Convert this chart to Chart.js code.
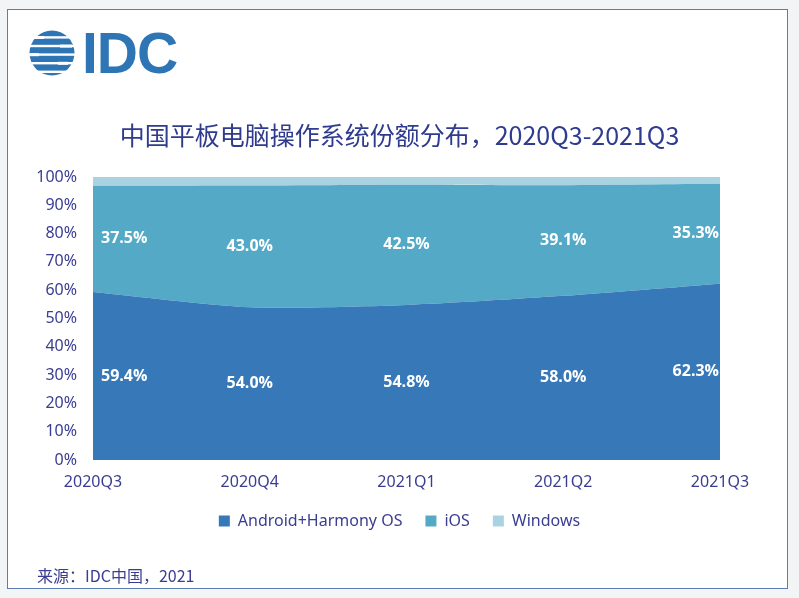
<!DOCTYPE html>
<html>
<head>
<meta charset="utf-8">
<script src="https://cdn.jsdelivr.net/npm/chart.js@4/dist/chart.umd.min.js"></script>
<style>
  html, body { margin: 0; padding: 0; }
  body { width: 799px; height: 598px; background: #f3f4f6; position: relative; overflow: hidden; font-family: "Noto Sans CJK SC", "Noto Sans", sans-serif; }
  #frame { position: absolute; left: 7px; top: 9px; width: 779px; height: 578px; background: #ffffff; border: 1.5px solid #5b7db3; }
  #logo { position: absolute; left: 0; top: 0; }
  #wrap { position: absolute; left: 0; top: 0; width: 799px; height: 598px; }
  #source { position: absolute; left: 37px; top: 563px; font-size: 16px; color: #3a3d91; font-family: "Noto Sans CJK SC", sans-serif; line-height: 24px; }
</style>
</head>
<body>
<div id="frame"></div>
<svg id="logo" width="200" height="90" viewBox="0 0 200 90">
  <defs>
    <clipPath id="globe"><circle cx="52" cy="53" r="22.5"/></clipPath>
  </defs>
  <g clip-path="url(#globe)" fill="#2e75b6">
    <rect x="28" y="30" width="48" height="6.2"/>
    <rect x="28" y="38.6" width="48" height="6.2"/>
    <rect x="28" y="47.2" width="48" height="6.2"/>
    <rect x="28" y="55.8" width="48" height="6.2"/>
    <rect x="28" y="64.4" width="48" height="6.2"/>
    <rect x="28" y="73" width="48" height="6.2"/>
  </g>
  <g fill="#ffffff">
    <rect x="34" y="36" width="10" height="3"/>
    <rect x="60" y="44.6" width="12" height="3"/>
    <rect x="30" y="53.2" width="9" height="3"/>
    <rect x="58" y="61.8" width="10" height="3"/>
  </g>
  <text x="82" y="73" font-family="Liberation Sans, Arial, sans-serif" font-weight="700" font-size="57" fill="#2e75b6" letter-spacing="-1">IDC</text>
</svg>
<div id="wrap"><canvas id="c"></canvas></div>
<div id="source">来源：IDC中国，2021</div>
<script>
const categories = ["2020Q3", "2020Q4", "2021Q1", "2021Q2", "2021Q3"];
const androidShare = [59.4, 54.0, 54.8, 58.0, 62.3];
const iosShare = [37.5, 43.0, 42.5, 39.1, 35.3];
const windowsShare = [3.1, 3.0, 2.7, 2.9, 2.4];
const seriesNames = ["Android+Harmony OS", "iOS", "Windows"];
const labelledSeries = [androidShare, iosShare];

const navy = "#3a3d91";

const dataLabels = {
  id: "dataLabels",
  afterDatasetsDraw(chart) {
    const ctx = chart.ctx;
    const xs = chart.scales.x, ys = chart.scales.y;
    ctx.save();
    ctx.fillStyle = "#ffffff";
    ctx.font = "700 16px 'Open Sans', 'Noto Sans', sans-serif";
    ctx.textBaseline = "middle";
    const n = categories.length;
    for (let i = 0; i < n; i++) {
      let base = 0;
      labelledSeries.forEach(series => {
        const v = series[i];
        const y = ys.getPixelForValue(base + v / 2);
        let x = xs.getPixelForValue(i);
        if (i === 0) { ctx.textAlign = "left"; x += 8; }
        else if (i === n - 1) { ctx.textAlign = "right"; x -= 1; }
        else { ctx.textAlign = "center"; }
        ctx.fillText(v.toFixed(1) + "%", x, y);
        base += v;
      });
    }
    ctx.restore();
  }
};

new Chart(document.getElementById("c"), {
  type: "line",
  data: {
    labels: categories,
    datasets: [
      { label: seriesNames[0], data: androidShare, backgroundColor: "#3678b8", borderColor: "#3678b8", borderWidth: 0, fill: "origin", pointRadius: 0, tension: 0.25 },
      { label: seriesNames[1], data: iosShare, backgroundColor: "#54aac6", borderColor: "#54aac6", borderWidth: 0, fill: "-1", pointRadius: 0, tension: 0.25 },
      { label: seriesNames[2], data: windowsShare, backgroundColor: "#a9d3e1", borderColor: "#a9d3e1", borderWidth: 0, fill: "-1", pointRadius: 0, tension: 0.25 }
    ]
  },
  options: {
    responsive: true,
    maintainAspectRatio: false,
    animation: false,
    events: [],
    layout: { padding: { top: 119, left: 30, right: 30, bottom: 59 } },
    plugins: {
      title: {
        display: true,
        text: "中国平板电脑操作系统份额分布，2020Q3-2021Q3",
        color: "#2f3b8f",
        font: { family: "'Noto Sans CJK SC', sans-serif", size: 25, weight: "400", lineHeight: 1.2 },
        padding: { top: 1, bottom: 27 }
      },
      legend: {
        position: "bottom",
        labels: {
          color: navy,
          boxWidth: 11,
          boxHeight: 11,
          padding: 23,
          font: { family: "'Noto Sans', sans-serif", size: 16 }
        }
      },
      tooltip: { enabled: false }
    },
    scales: {
      x: {
        offset: false,
        grid: { display: false, drawTicks: false },
        border: { display: false },
        ticks: { color: navy, padding: 13, maxRotation: 0, autoSkip: false, font: { family: "'Noto Sans', sans-serif", size: 16 } },
        afterFit(scale) { scale.height = 30; }
      },
      y: {
        stacked: true,
        min: 0,
        max: 100,
        grid: { display: false, drawTicks: false },
        border: { display: false },
        ticks: { stepSize: 10, color: navy, padding: 16, font: { family: "'Noto Sans', sans-serif", size: 16 }, callback: v => v + "%" },
        afterFit(scale) { scale.width = 63; }
      },
      yRight: {
        position: "right",
        display: true,
        grid: { display: false, drawTicks: false },
        border: { display: false },
        ticks: { display: false },
        afterFit(scale) { scale.width = 49; }
      }
    }
  },
  plugins: [dataLabels]
});
</script>
</body>
</html>
